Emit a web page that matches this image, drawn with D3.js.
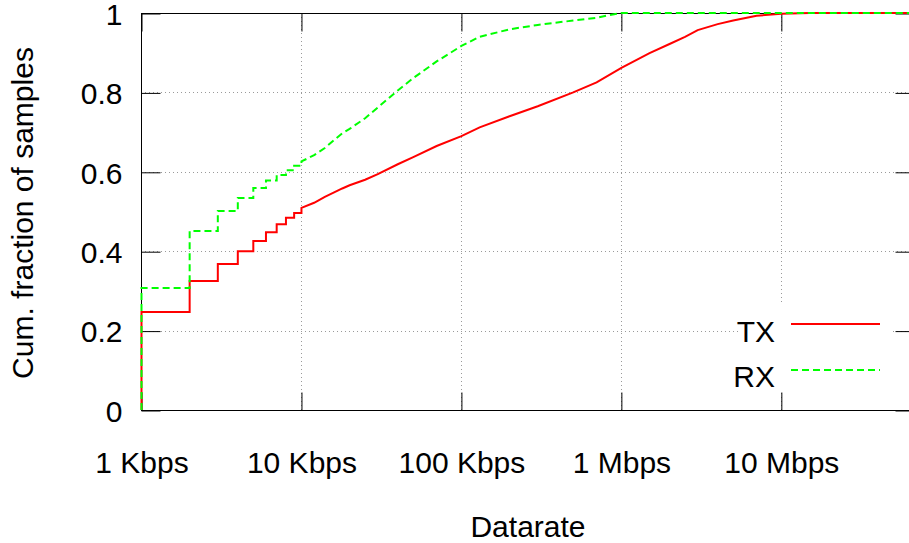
<!DOCTYPE html>
<html>
<head>
<meta charset="utf-8">
<script src="https://cdn.jsdelivr.net/npm/d3@7"></script>
<style>
  html, body { margin: 0; padding: 0; background: #fff; }
  svg { display: block; }
  text { font-family: "Liberation Sans", Arial, Helvetica, sans-serif; fill: #000; }
</style>
</head>
<body>
<svg id="chart" width="909" height="543"></svg>
<script>
// ---- data (rates in Kbps) ----
const xTickValues = [1, 10, 100, 1000, 10000];
const xTickLabels = ["1 Kbps", "10 Kbps", "100 Kbps", "1 Mbps", "10 Mbps"];
const yTickValues = [0, 0.2, 0.4, 0.6, 0.8, 1];
const yTickLabels = ["0", "0.2", "0.4", "0.6", "0.8", "1"];
const xDomainMax = 68000;

const seriesNames = ["TX", "RX"];

// TX: stepped part (integer Kbps) and smooth part
const txStepRates = [1, 2, 3, 4, 5, 6, 7, 8, 9, 10];
const txStepCdf   = [0.247, 0.325, 0.368, 0.400, 0.426, 0.448, 0.468, 0.484, 0.496, 0.509];
const txRates = [12, 14, 16, 18, 20, 25, 30, 40, 50, 70, 100, 130, 200, 300, 500, 700, 1000, 1500, 2000, 2500, 3000, 4000, 5000, 7000, 10000, 15000];
const txCdf   = [0.522, 0.537, 0.548, 0.558, 0.566, 0.580, 0.594, 0.619, 0.637, 0.665, 0.690, 0.712, 0.740, 0.765, 0.800, 0.825, 0.862, 0.899, 0.922, 0.940, 0.957, 0.972, 0.981, 0.993, 0.998, 1.0];

// RX
const rxStepRates = [1, 2, 3, 4, 5, 6, 7, 8, 9, 10];
const rxStepCdf   = [0.307, 0.451, 0.501, 0.534, 0.559, 0.578, 0.592, 0.604, 0.615, 0.626];
const rxRates = [12, 14, 16, 18, 20, 25, 30, 40, 50, 70, 100, 130, 200, 300, 500, 700, 900, 1000];
const rxCdf   = [0.642, 0.660, 0.680, 0.697, 0.708, 0.735, 0.762, 0.805, 0.836, 0.878, 0.917, 0.940, 0.959, 0.970, 0.981, 0.988, 0.997, 1.0];

(function () {
// ---- layout ----
const pL = 141, pR = 914, pT = 13, pB = 410;
const svg = d3.select("#chart");
const FONT = 30;

const x = d3.scaleLog().domain([1, xDomainMax]).range([pL, pR]);
const y = d3.scaleLinear().domain([0, 1]).range([pB, pT]);

// grid
const grid = svg.append("g").attr("stroke", "#9a9a9a").attr("stroke-width", 1).attr("stroke-dasharray", "1,3");
grid.selectAll("line.gx").data(xTickValues.slice(1)).join("line")
  .attr("x1", d => Math.round(x(d)) + 0.5).attr("x2", d => Math.round(x(d)) + 0.5)
  .attr("y1", pT).attr("y2", pB);
grid.selectAll("line.gy").data(yTickValues.slice(1, -1)).join("line")
  .attr("x1", pL).attr("x2", pR)
  .attr("y1", d => Math.round(y(d)) + 0.5).attr("y2", d => Math.round(y(d)) + 0.5);

// key background
svg.append("rect").attr("x", 741).attr("y", 303).attr("width", 152).attr("height", 89).attr("fill", "#fff");

// border
svg.append("rect").attr("x", pL + 0.5).attr("y", pT + 0.5)
  .attr("width", pR - pL).attr("height", pB - pT)
  .attr("fill", "none").attr("stroke", "#000").attr("stroke-width", 1);

// axes
const fmtX = (d) => xTickLabels[xTickValues.indexOf(d)];
const fmtY = (d) => yTickLabels[yTickValues.indexOf(d)];

const gB = svg.append("g").attr("transform", `translate(0.5,${pB + 0.5})`)
  .call(d3.axisBottom(x).tickValues(xTickValues).tickFormat(fmtX).tickSizeInner(-18).tickSizeOuter(0).tickPadding(41));
const gT = svg.append("g").attr("transform", `translate(0.5,${pT + 0.5})`)
  .call(d3.axisTop(x).tickValues(xTickValues).tickFormat("").tickSizeInner(-18).tickSizeOuter(0));
const gL = svg.append("g").attr("transform", `translate(${pL + 0.5},0.5)`)
  .call(d3.axisLeft(y).tickValues(yTickValues).tickFormat(fmtY).tickSizeInner(-19).tickSizeOuter(0).tickPadding(19));
const gR = svg.append("g").attr("transform", `translate(${pR + 0.5},0.5)`)
  .call(d3.axisRight(y).tickValues(yTickValues).tickFormat("").tickSizeInner(-19).tickSizeOuter(0));

[gB, gT, gL, gR].forEach(g => {
  g.select(".domain").remove();
  g.selectAll("line").attr("stroke", "#000");
  g.selectAll("text").attr("font-size", FONT).attr("font-family", null).attr("fill", "#000");
});
gL.selectAll("text").attr("dy", "0.36em");

// axis titles
svg.append("text").attr("x", 528).attr("y", 537).attr("text-anchor", "middle")
  .attr("font-size", FONT).text("Datarate");
svg.append("text").attr("transform", "translate(33,213) rotate(-90)").attr("text-anchor", "middle")
  .attr("font-size", FONT).text("Cum. fraction of samples");

// build curves
function buildPoints(stepRates, stepCdf, rates, cdf) {
  const pts = [[stepRates[0], 0]];
  stepRates.forEach((r, i) => {
    pts.push([r, stepCdf[i]]);
    if (i < stepRates.length - 1) pts.push([stepRates[i + 1], stepCdf[i]]);
  });
  rates.forEach((r, i) => pts.push([r, cdf[i]]));
  pts.push([xDomainMax, cdf[cdf.length - 1]]);
  return pts;
}

const line = d3.line().x(d => x(d[0]) + 0.5).y(d => y(d[1]));

const txPts = buildPoints(txStepRates, txStepCdf, txRates, txCdf);
const rxPts = buildPoints(rxStepRates, rxStepCdf, rxRates, rxCdf);

svg.append("clipPath").attr("id", "clip").append("rect")
  .attr("x", pL - 2).attr("y", pT - 2).attr("width", pR - pL + 4).attr("height", pB - pT + 3);

const curves = svg.append("g").attr("clip-path", "url(#clip)");
curves.append("path").datum(txPts).attr("d", line)
  .attr("fill", "none").attr("stroke", "#ff0000").attr("stroke-width", 2);
curves.append("path").datum(rxPts).attr("d", line)
  .attr("fill", "none").attr("stroke", "#00ff00").attr("stroke-width", 2).attr("stroke-dasharray", "7,4");

// legend
const legendY = [324, 370];
const legendTextY = [342, 387];
const styles = [{ c: "#ff0000", d: null }, { c: "#00ff00", d: "7,4" }];
seriesNames.forEach((name, i) => {
  svg.append("text").attr("x", 775).attr("y", legendTextY[i]).attr("text-anchor", "end")
    .attr("font-size", FONT).text(name);
  svg.append("line").attr("x1", 791).attr("x2", 880).attr("y1", legendY[i]).attr("y2", legendY[i])
    .attr("stroke", styles[i].c).attr("stroke-width", 2).attr("stroke-dasharray", styles[i].d);
});
})();
</script>
</body>
</html>
